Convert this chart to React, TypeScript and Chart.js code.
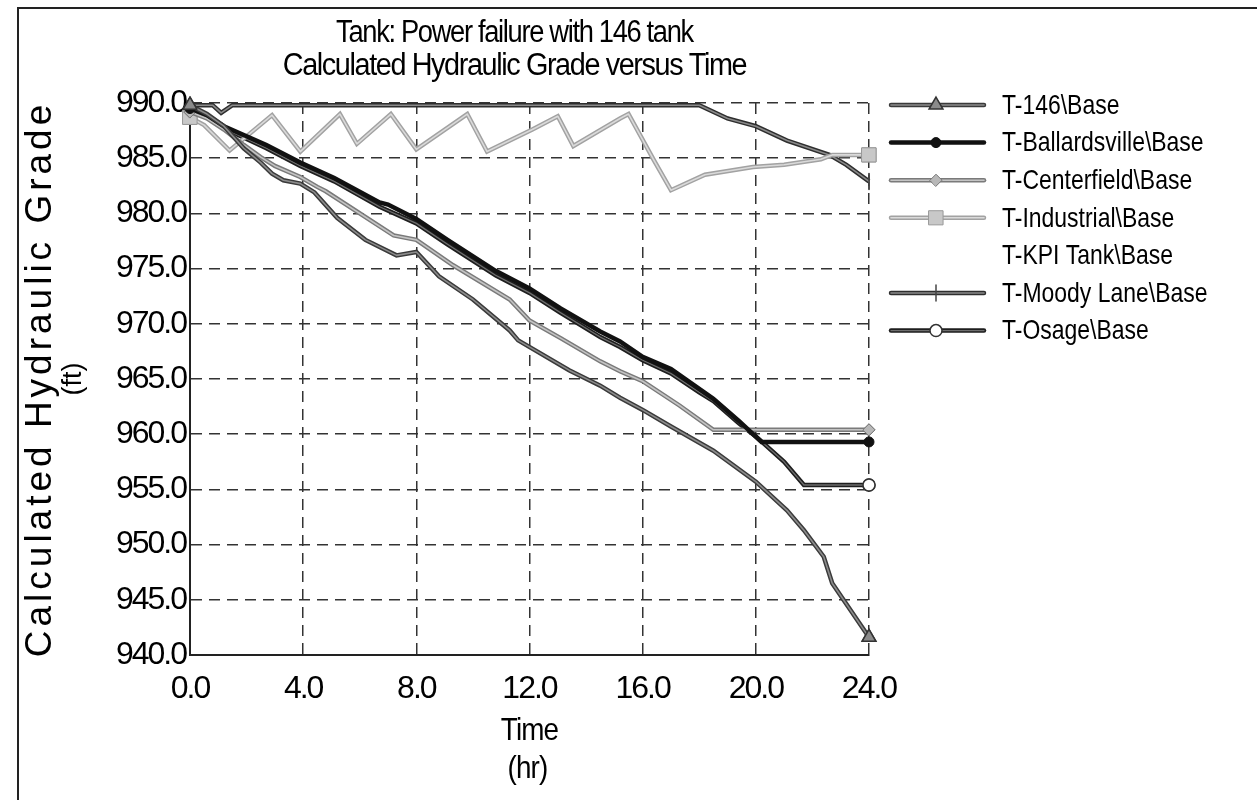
import React, { useEffect, useRef } from 'react';
import { Chart, registerables } from 'chart.js';
import { drawPoint } from 'chart.js/helpers';

Chart.register(...registerables);

const NARROW = "'Liberation Sans Narrow', 'Arial Narrow', 'Liberation Sans', sans-serif";
const WIDE = "'Liberation Sans', Arial, sans-serif";

// ---- text ----
const titleLines = ['Tank: Power failure with 146 tank', 'Calculated Hydraulic Grade versus Time'];
const yTitle = 'Calculated Hydraulic Grade';
const yUnit = '(ft)';
const xTitle = 'Time';
const xUnit = '(hr)';

// ---- axes ----
const xMin = 0;
const xMax = 24;
const xStep = 4;
const yMin = 940;
const yMax = 990;
const yStep = 5;

// ---- series names ----
const seriesNames = [
  'T-146\\Base',
  'T-Ballardsville\\Base',
  'T-Centerfield\\Base',
  'T-Industrial\\Base',
  'T-KPI Tank\\Base',
  'T-Moody Lane\\Base',
  'T-Osage\\Base',
];

// ---- data (time in hr, grade in ft) ----
const t146Time = [0, 0.6, 1.2, 1.9, 2.5, 2.9, 3.3, 3.9, 4.4, 5.2, 6.2, 7.3, 8.0, 8.8, 10.0, 11.3, 11.6, 13.4, 14.5, 15.2, 16.0, 17.0, 18.5, 20.0, 21.1, 21.7, 22.4, 22.7, 24.0];
const t146Grade = [989.8, 989.0, 987.9, 985.9, 984.6, 983.6, 983.0, 982.7, 981.9, 979.6, 977.6, 976.2, 976.5, 974.3, 972.2, 969.4, 968.5, 965.8, 964.4, 963.3, 962.2, 960.7, 958.5, 955.7, 953.1, 951.3, 948.9, 946.5, 941.6];

const ballardsvilleTime = [0, 0.6, 1.2, 2.7, 3.9, 5.1, 6.7, 7.0, 8.0, 9.1, 10.8, 12.0, 13.1, 14.5, 15.2, 16.0, 17.0, 18.0, 18.5, 19.4, 20.2, 24.0];
const ballardsvilleGrade = [989.5, 988.9, 987.9, 986.2, 984.6, 983.2, 981.0, 980.8, 979.5, 977.6, 974.8, 973.2, 971.4, 969.3, 968.4, 967.0, 965.9, 964.1, 963.2, 961.2, 959.3, 959.3];

const centerfieldTime = [0, 0.6, 1.2, 1.9, 2.5, 3.0, 3.9, 4.5, 4.8, 7.2, 8.0, 9.3, 11.3, 12.0, 13.1, 14.5, 15.2, 16.0, 17.3, 18.5, 24.0];
const centerfieldGrade = [989.2, 988.6, 987.6, 986.2, 985.1, 984.3, 983.3, 982.4, 982.0, 978.0, 977.6, 975.3, 972.2, 970.3, 968.7, 966.6, 965.7, 964.8, 962.6, 960.4, 960.4];

const industrialTime = [0, 0.5, 1.4, 2.9, 3.9, 5.3, 5.9, 7.1, 8.0, 9.8, 10.5, 12.1, 13.0, 13.55, 15.2, 15.5, 16.4, 17.0, 18.2, 19.9, 21.0, 22.3, 22.7, 24.0];
const industrialGrade = [988.7, 988.0, 985.7, 988.9, 985.6, 989.0, 986.3, 989.0, 985.8, 989.0, 985.6, 987.6, 988.8, 986.1, 988.6, 989.0, 984.8, 982.1, 983.5, 984.2, 984.4, 984.9, 985.3, 985.3];

const kpiTankTime: number[] = [];
const kpiTankGrade: number[] = [];

const moodyLaneTime = [0, 0.8, 1.1, 1.5, 18.0, 19.0, 20.0, 21.1, 22.6, 23.2, 24.0];
const moodyLaneGrade = [989.8, 989.8, 989.1, 989.8, 989.8, 988.6, 987.9, 986.6, 985.3, 984.4, 982.9];

const osageTime = [0, 0.6, 1.2, 2.7, 3.9, 5.1, 6.7, 8.0, 9.1, 10.8, 12.0, 13.1, 14.5, 15.2, 16.0, 17.0, 18.0, 18.5, 19.4, 20.0, 21.0, 21.7, 24.0];
const osageGrade = [989.3, 988.7, 987.7, 985.9, 984.3, 982.9, 980.6, 979.1, 977.2, 974.4, 972.8, 971.0, 968.8, 967.9, 966.7, 965.5, 963.8, 963.0, 961.0, 959.8, 957.5, 955.4, 955.4];

const pts = (t: number[], v: number[]) => t.map((x, i) => ({ x, y: v[i] }));

const endOnly = (r: number) => (c: any) =>
  c.dataIndex === 0 || c.dataIndex === c.dataset.data.length - 1 ? r : 0;

function makeDataset(label: string, data: any[], s: any) {
  return {
    label,
    data,
    borderColor: s.color,
    borderWidth: s.width,
    innerColor: s.inner,
    innerWidth: s.innerWidth || 1.6,
    pointStyle: s.pointStyle,
    pointRotation: s.rotation || 0,
    pointBackgroundColor: s.pointFill,
    pointBorderColor: s.pointStroke,
    pointBorderWidth: s.pointBorderWidth,
    pointRadius: endOnly(s.radius),
    legendRadius: s.radius,
    tension: 0,
    fill: false,
    clip: false,
  };
}

function squeezedText(ctx: any, text: string, x: number, y: number, sx: number, align: string) {
  ctx.save();
  ctx.translate(x, y);
  ctx.scale(sx, 1);
  ctx.textAlign = align;
  ctx.fillText(text, 0, 0);
  ctx.restore();
}

// light core stroke along each drawn line (the "outlined" pen of the original plot)
const innerLinePlugin = {
  id: 'innerLine',
  afterDatasetDraw(chart: any, args: any) {
    const ds = chart.data.datasets[args.index];
    if (!ds.innerColor) return;
    const meta = args.meta;
    const els = meta.data;
    if (!els || els.length < 2) return;
    const ctx = chart.ctx;
    ctx.save();
    ctx.setLineDash([]);
    ctx.lineJoin = 'round';
    ctx.lineCap = 'round';
    ctx.strokeStyle = ds.innerColor;
    ctx.lineWidth = ds.innerWidth;
    ctx.beginPath();
    els.forEach((p: any, i: number) => (i ? ctx.lineTo(p.x, p.y) : ctx.moveTo(p.x, p.y)));
    ctx.stroke();
    // re-draw end markers above the core line
    els.forEach((p: any, i: number) => {
      if (i === 0 || i === els.length - 1) p.draw(ctx, chart.chartArea);
    });
    ctx.restore();
  },
};

const legendPlugin = {
  id: 'customLegend',
  afterDraw(chart: any) {
    const { ctx, chartArea } = chart;
    const x0 = chartArea.right + 22;
    const x1 = chartArea.right + 115;
    const xm = chartArea.right + 67;
    const xt = chartArea.right + 133;
    const top = chartArea.top + 2;
    const step = 37.6;
    ctx.save();
    chart.data.datasets.forEach((ds: any, i: number) => {
      const y = top + i * step;
      if (ds.data.length) {
        ctx.setLineDash([]);
        ctx.lineCap = 'round';
        ctx.lineWidth = ds.borderWidth;
        ctx.strokeStyle = ds.borderColor;
        ctx.beginPath();
        ctx.moveTo(x0, y);
        ctx.lineTo(x1, y);
        ctx.stroke();
        if (ds.innerColor) {
          ctx.lineWidth = ds.innerWidth;
          ctx.strokeStyle = ds.innerColor;
          ctx.beginPath();
          ctx.moveTo(x0, y);
          ctx.lineTo(x1, y);
          ctx.stroke();
        }
        ctx.fillStyle = ds.pointBackgroundColor;
        ctx.strokeStyle = ds.pointBorderColor;
        ctx.lineWidth = ds.pointBorderWidth;
        drawPoint(ctx, { pointStyle: ds.pointStyle, rotation: ds.pointRotation, radius: ds.legendRadius, borderWidth: ds.pointBorderWidth }, xm, y);
      }
      ctx.fillStyle = '#000';
      ctx.font = `28px ${NARROW}`;
      (ctx as any).letterSpacing = '0px';
      ctx.textBaseline = 'middle';
      squeezedText(ctx, ds.label, xt, y + 1, 0.82, 'left');
    });
    ctx.restore();
  },
};

const titlesPlugin = {
  id: 'titles',
  beforeDraw(chart: any) {
    (chart.ctx as any).letterSpacing = '-2px';
  },
  afterDraw(chart: any) {
    const { ctx, chartArea } = chart;
    const cx = (chartArea.left + chartArea.right) / 2;
    ctx.save();
    ctx.fillStyle = '#000';
    ctx.textBaseline = 'middle';
    (ctx as any).letterSpacing = '-1.5px';
    ctx.font = `31px ${NARROW}`;
    squeezedText(ctx, titleLines[0], cx - 15, 33, 0.88, 'center');
    squeezedText(ctx, titleLines[1], cx - 15, 66, 0.93, 'center');
    (ctx as any).letterSpacing = '-1px';
    ctx.font = `32px ${NARROW}`;
    squeezedText(ctx, xTitle, cx, 731, 0.87, 'center');
    squeezedText(ctx, xUnit, cx - 2, 769, 0.87, 'center');
    // y title (rotated)
    const cy = (chartArea.top + chartArea.bottom) / 2;
    ctx.translate(41, cy);
    ctx.rotate(-Math.PI / 2);
    ctx.textAlign = 'center';
    (ctx as any).letterSpacing = '4px';
    ctx.font = `37px ${WIDE}`;
    ctx.fillText(yTitle, 0, 0);
    (ctx as any).letterSpacing = '0px';
    ctx.font = `27px ${WIDE}`;
    ctx.fillText(yUnit, 0, 33);
    ctx.restore();
    (ctx as any).letterSpacing = '0px';
  },
};

export default function App() {
  const ref = useRef<HTMLCanvasElement>(null);
  useEffect(() => {
    if (!ref.current) return;
    const datasets = [
      makeDataset(seriesNames[0], pts(t146Time, t146Grade), { color: '#3a3a3a', width: 4.5, inner: '#8c8c8c', pointStyle: 'triangle', pointFill: '#8a8a8a', pointStroke: '#333', pointBorderWidth: 1.5, radius: 8 }),
      makeDataset(seriesNames[1], pts(ballardsvilleTime, ballardsvilleGrade), { color: '#111111', width: 4.5, inner: null, pointStyle: 'circle', pointFill: '#111', pointStroke: '#111', pointBorderWidth: 1, radius: 5 }),
      makeDataset(seriesNames[2], pts(centerfieldTime, centerfieldGrade), { color: '#7a7a7a', width: 4.5, inner: '#c4c4c4', pointStyle: 'rectRot', pointFill: '#b8b8b8', pointStroke: '#777', pointBorderWidth: 1, radius: 6 }),
      makeDataset(seriesNames[3], pts(industrialTime, industrialGrade), { color: '#a2a2a2', width: 4.5, inner: '#dadada', pointStyle: 'rect', pointFill: '#c8c8c8', pointStroke: '#999', pointBorderWidth: 1, radius: 10 }),
      makeDataset(seriesNames[4], pts(kpiTankTime, kpiTankGrade), { color: 'transparent', width: 0, inner: null, pointStyle: 'circle', pointFill: 'transparent', pointStroke: 'transparent', pointBorderWidth: 0, radius: 0 }),
      makeDataset(seriesNames[5], pts(moodyLaneTime, moodyLaneGrade), { color: '#2e2e2e', width: 4.5, inner: '#8a8a8a', pointStyle: 'line', rotation: 90, pointFill: '#444', pointStroke: '#444', pointBorderWidth: 1.5, radius: 8 }),
      makeDataset(seriesNames[6], pts(osageTime, osageGrade), { color: '#1e1e1e', width: 4.5, inner: '#6e6e6e', innerWidth: 1.3, pointStyle: 'circle', pointFill: '#fff', pointStroke: '#333', pointBorderWidth: 1.5, radius: 6 }),
    ];
    const chart = new Chart(ref.current, {
      type: 'line',
      data: { datasets } as any,
      options: {
        responsive: false,
        animation: false,
        events: [],
        layout: { padding: { left: 0, right: 388, top: 103, bottom: 0 } },
        plugins: { legend: { display: false }, title: { display: false }, tooltip: { enabled: false } },
        scales: {
          x: {
            type: 'linear',
            min: xMin,
            max: xMax,
            afterFit: (s: any) => { s.height = 145; },
            ticks: {
              stepSize: xStep,
              autoSkip: false,
              maxRotation: 0,
              padding: 15,
              color: '#000',
              font: { family: NARROW, size: 32 },
              callback: (v: any) => Number(v).toFixed(1),
            },
            grid: { color: '#333', lineWidth: 1.5, drawTicks: false },
            border: { display: true, color: '#222', width: 2, dash: [11, 7] },
          },
          y: {
            type: 'linear',
            min: yMin,
            max: yMax,
            afterFit: (s: any) => { s.width = 190; },
            ticks: {
              stepSize: yStep,
              padding: 4,
              color: '#000',
              font: { family: NARROW, size: 32 },
              callback: (v: any) => Number(v).toFixed(1),
            },
            grid: { color: '#333', lineWidth: 1.5, drawTicks: false },
            border: { display: true, color: '#222', width: 2, dash: [11, 7] },
          },
        },
      } as any,
      plugins: [titlesPlugin, innerLinePlugin, legendPlugin],
    });
    return () => chart.destroy();
  }, []);

  return (
    <div style={{ position: 'absolute', left: 0, top: 0, width: 1257, height: 800, background: '#fff', overflow: 'hidden' }}>
      <div style={{ position: 'absolute', left: 17, top: 7, width: 1240, height: 793, borderLeft: '2px solid #222', borderTop: '2px solid #222', boxSizing: 'border-box' }} />
      <canvas ref={ref} width={1257} height={800} style={{ position: 'absolute', left: 0, top: 0, display: 'block' }} />
    </div>
  );
}
